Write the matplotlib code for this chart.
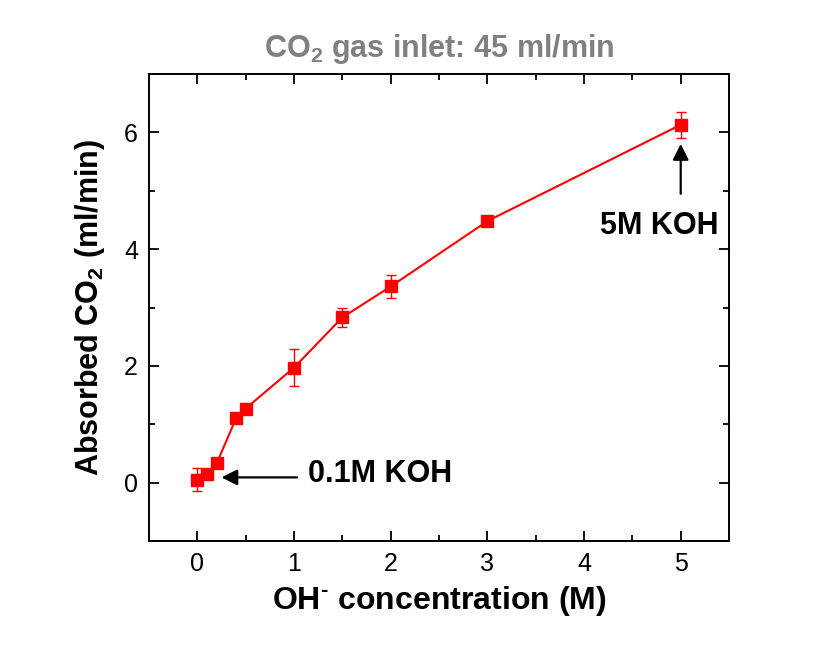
import matplotlib
matplotlib.use('Agg')
import matplotlib.pyplot as plt
from matplotlib.ticker import MultipleLocator

# OH- concentration (M) vs absorbed CO2 (ml/min)
conc = [0, 0.1, 0.2, 0.4, 0.5, 1, 1.5, 2, 3, 5]
absorbed = [0.05, 0.14, 0.33, 1.10, 1.27, 1.97, 2.83, 3.36, 4.48, 6.13]
err = [0.20, 0.0, 0.0, 0.0, 0.0, 0.32, 0.16, 0.19, 0.05, 0.22]

plt.rcParams['font.family'] = ['Liberation Sans', 'DejaVu Sans']
plt.rcParams['mathtext.fontset'] = 'custom'
plt.rcParams['mathtext.rm'] = 'Liberation Sans:bold'
plt.rcParams['mathtext.bf'] = 'Liberation Sans:bold'

fig = plt.figure(figsize=(8.4, 6.48), dpi=100)
ax = fig.add_axes([0.1774, 0.1651, 0.6905, 0.7207])

ax.errorbar(conc, absorbed, yerr=err, color='#ff0000', marker='s', markersize=8.5,
            linewidth=1.5, elinewidth=1.0, capsize=3.5, capthick=1.0)

ax.set_xlim(-0.5, 5.5)
ax.set_ylim(-1, 7)
ax.xaxis.set_major_locator(MultipleLocator(1))
ax.xaxis.set_minor_locator(MultipleLocator(0.5))
ax.yaxis.set_major_locator(MultipleLocator(2))
ax.yaxis.set_minor_locator(MultipleLocator(1))
ax.tick_params(which='both', direction='in', top=True, right=True, width=1.3)
ax.tick_params(which='major', length=7, labelsize=18, pad=8)
ax.tick_params(which='minor', length=4)
for s in ax.spines.values():
    s.set_linewidth(1.4)

ax.set_xlabel(r'OH$^\text{-}$ concentration (M)', fontsize=23, fontweight='bold', labelpad=6)
ax.set_ylabel(r'Absorbed CO$_\text{2}$ (ml/min)', fontsize=22, fontweight='bold', labelpad=12)
ax.set_title(r'CO$_\text{2}$ gas inlet: 45 ml/min', fontsize=22, fontweight='bold',
             color='#808080', pad=12)

arrow = dict(arrowstyle='-|>', color='black', linewidth=1.6, mutation_scale=24)
ax.annotate('', xy=(0.22, 0.09), xytext=(1.06, 0.09), arrowprops=arrow)
ax.text(1.14, 0.14, '0.1M KOH', fontsize=22, fontweight='bold', va='center', ha='left')
ax.annotate('', xy=(5, 5.85), xytext=(5, 4.9), arrowprops=arrow)
ax.text(4.78, 4.4, '5M KOH', fontsize=22, fontweight='bold', va='center', ha='center')

fig.savefig('out.png', dpi=100)
